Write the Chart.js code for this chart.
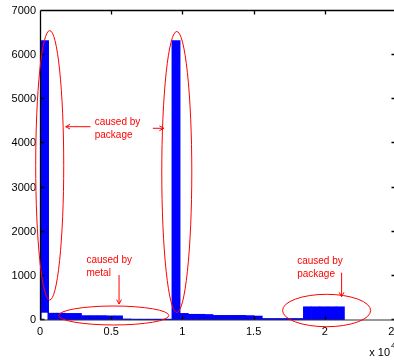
<!DOCTYPE html>
<html><head><meta charset="utf-8">
<script src="https://cdn.jsdelivr.net/npm/chart.js@4/dist/chart.umd.min.js"></script>
<style>html,body{margin:0;padding:0;background:#fff;overflow:hidden;width:394px;height:360px}canvas{display:block}</style>
</head><body>
<canvas id="c" width="420" height="360"></canvas>
<script>
// ---- data (histogram bins) ----
const binCenters = [319, 896, 1473, 2050, 2627, 3204, 3781, 4358, 4935, 5512, 6089, 6666, 7243, 7820, 8397, 8974, 9551, 10128, 10705, 11282, 11859, 12436, 13013, 13590, 14167, 14744, 15321, 15898, 16475, 17052, 17629, 18206, 18783, 19360, 19937, 20514, 21091];
const counts = [6330, 155, 155, 150, 150, 100, 100, 100, 95, 95, 25, 20, 20, 20, 20, 20, 6330, 150, 130, 130, 125, 105, 105, 105, 105, 100, 90, 35, 35, 35, 35, 35, 300, 300, 300, 300, 300];
const firstBinCellX = [319];
const firstBinCellY = [165];
const xTickValues = [0, 5000, 10000, 15000, 20000, 25000];
const xTickLabels = ['0', '0.5', '1', '1.5', '2', '2.5'];
const yTickValues = [0, 1000, 2000, 3000, 4000, 5000, 6000, 7000];
const noteTexts = [['caused by', 'package'], ['caused by', 'metal'], ['caused by', 'package']];

// ---- annotation geometry (data units) ----
const annot = {
  ellipses: [
    {cx: 682, cy: 3505, rx: 984, ry: 3052},
    {cx: 9606, cy: 3353, rx: 1054, ry: 3183},
    {cx: 5179, cy: 102, rx: 3865, ry: 215},
    {cx: 20126, cy: 215, rx: 3092, ry: 367}
  ],
  notes: [
    {x: 3844, y: 4479, t: 0},
    {x: 3261, y: 1359, t: 1},
    {x: 18060, y: 1337, t: 2}
  ],
  arrows: [
    {x1: 3542, y1: 4379, x2: 1806, y2: 4379},
    {x1: 7920, y1: 4343, x2: 8693, y2: 4343},
    {x1: 5552, y1: 1019, x2: 5552, y2: 362},
    {x1: 21181, y1: 1072, x2: 21181, y2: 528}
  ]
};

const FONT = 'Liberation Sans, Arial, sans-serif';

const boxPlugin = {
  id: 'axisBox',
  afterDatasetsDraw(chart) {
    const ctx = chart.ctx, a = chart.chartArea, xs = chart.scales.x, ys = chart.scales.y;
    ctx.save();
    ctx.strokeStyle = '#000';
    ctx.lineWidth = 1.3;
    const L = Math.round(a.left) + 0.5, R = Math.round(a.right) - 0.5;
    const T = Math.round(a.top) - 0.5, B = Math.round(a.bottom);
    ctx.beginPath();
    ctx.moveTo(L, T); ctx.lineTo(R, T);
    ctx.moveTo(R, T); ctx.lineTo(R, B);
    ctx.moveTo(L, B); ctx.lineTo(L, T);
    xTickValues.forEach(v => {
      const px = Math.round(xs.getPixelForValue(v)) + 0.5;
      ctx.moveTo(px, B); ctx.lineTo(px, B - 4);
      ctx.moveTo(px, T); ctx.lineTo(px, T + 4);
    });
    yTickValues.forEach(v => {
      const py = Math.round(ys.getPixelForValue(v)) - 0.5;
      ctx.moveTo(L, py); ctx.lineTo(L + 4, py);
      ctx.moveTo(R, py); ctx.lineTo(R - 4, py);
    });
    ctx.stroke();
    ctx.strokeStyle = '#333';
    ctx.lineWidth = 1.2;
    ctx.beginPath();
    ctx.moveTo(L - 0.5, B); ctx.lineTo(R, B);
    ctx.stroke();
    ctx.restore();
  },
  afterDraw(chart) {
    const ctx = chart.ctx, a = chart.chartArea;
    ctx.save();
    ctx.fillStyle = '#000';
    ctx.font = '11px ' + FONT;
    ctx.textAlign = 'right';
    ctx.textBaseline = 'middle';
    ctx.fillText('x 10', a.right - 6, a.bottom + 33);
    ctx.font = '8px ' + FONT;
    ctx.textAlign = 'left';
    ctx.fillText('4', a.right - 5, a.bottom + 26);
    ctx.restore();
  }
};

const notesPlugin = {
  id: 'notes',
  afterDraw(chart) {
    const ctx = chart.ctx, xs = chart.scales.x, ys = chart.scales.y;
    ctx.save();
    ctx.strokeStyle = '#ff0000';
    ctx.fillStyle = '#ff0000';
    ctx.lineWidth = 1;
    annot.ellipses.forEach(e => {
      const cx = xs.getPixelForValue(e.cx), cy = ys.getPixelForValue(e.cy);
      const rx = Math.abs(xs.getPixelForValue(e.cx + e.rx) - cx);
      const ry = Math.abs(ys.getPixelForValue(e.cy + e.ry) - cy);
      ctx.beginPath();
      ctx.ellipse(cx, cy, rx, ry, 0, 0, Math.PI * 2);
      ctx.stroke();
    });
    ctx.font = '10px ' + FONT;
    ctx.textAlign = 'left';
    ctx.textBaseline = 'middle';
    annot.notes.forEach(n => {
      const px = xs.getPixelForValue(n.x), py = ys.getPixelForValue(n.y);
      noteTexts[n.t].forEach((s, i) => ctx.fillText(s, px, py + i * 13.4));
    });
    annot.arrows.forEach(r => {
      const x1 = xs.getPixelForValue(r.x1), y1 = ys.getPixelForValue(r.y1);
      const x2 = xs.getPixelForValue(r.x2), y2 = ys.getPixelForValue(r.y2);
      const ang = Math.atan2(y2 - y1, x2 - x1);
      ctx.beginPath();
      ctx.moveTo(x1, y1); ctx.lineTo(x2, y2);
      ctx.moveTo(x2 - 5 * Math.cos(ang - 0.5), y2 - 5 * Math.sin(ang - 0.5));
      ctx.lineTo(x2, y2);
      ctx.lineTo(x2 - 5 * Math.cos(ang + 0.5), y2 - 5 * Math.sin(ang + 0.5));
      ctx.stroke();
    });
    ctx.restore();
  }
};

new Chart(document.getElementById('c'), {
  type: 'bar',
  data: {
    datasets: [
      {
        data: binCenters.map((v, i) => ({x: v, y: counts[i]})),
        backgroundColor: '#0000ff',
        borderWidth: 0,
        barPercentage: 1,
        categoryPercentage: 1,
        grouped: false,
        order: 1
      },
      {
        data: firstBinCellX.map((v, i) => ({x: v, y: firstBinCellY[i]})),
        backgroundColor: '#ffffff',
        borderWidth: 0,
        barPercentage: 0.72,
        categoryPercentage: 1,
        grouped: false,
        order: -1
      }
    ]
  },
  options: {
    responsive: false,
    animation: false,
    devicePixelRatio: 1,
    layout: {padding: {left: 0, right: 24, top: 11, bottom: 22}},
    plugins: {legend: {display: false}, tooltip: {enabled: false}},
    scales: {
      x: {
        type: 'linear', min: 0, max: 25000, offset: false,
        grid: {display: false, drawTicks: false, offset: false},
        border: {display: false},
        afterBuildTicks: s => { s.ticks = xTickValues.map(v => ({value: v})); },
        afterFit: s => { s.height = 18; },
        ticks: {
          autoSkip: false, maxRotation: 0, padding: 5, color: '#000',
          font: {family: FONT, size: 11},
          callback: (v, i) => xTickLabels[i]
        }
      },
      y: {
        min: 0, max: 7000,
        grid: {display: false, drawTicks: false},
        border: {display: false},
        afterBuildTicks: s => { s.ticks = yTickValues.map(v => ({value: v})); },
        afterFit: s => { s.width = 40; },
        ticks: {
          padding: 4, color: '#000',
          font: {family: FONT, size: 11},
          callback: v => String(v)
        }
      }
    }
  },
  plugins: [boxPlugin, notesPlugin]
});
</script>
</body></html>
